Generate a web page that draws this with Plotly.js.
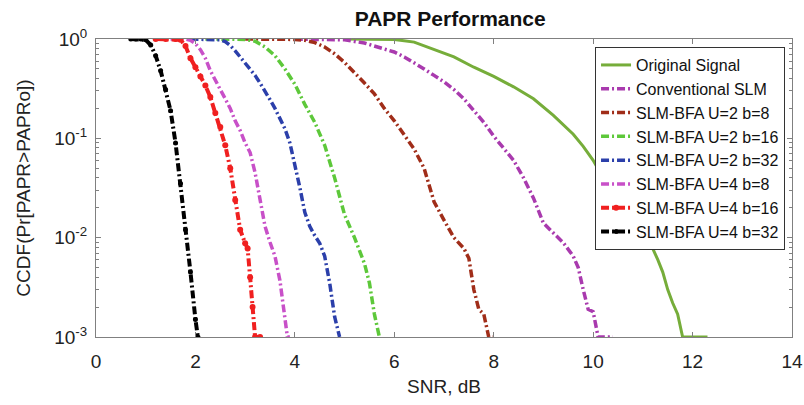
<!DOCTYPE html>
<html>
<head>
<meta charset="utf-8">
<script src="https://cdn.plot.ly/plotly-3.0.1.min.js"></script>
<style>html,body{margin:0;padding:0;background:#fff;}#chart{width:804px;height:405px;}</style>
</head>
<body>
<div id="chart"></div>
<script>
// ---- data ----
var seriesNames = ["Original Signal","Conventional SLM","SLM-BFA U=2 b=8","SLM-BFA U=2 b=16","SLM-BFA U=2 b=32","SLM-BFA U=4 b=8","SLM-BFA U=4 b=16","SLM-BFA U=4 b=32"];

var origX = [5.0,5.6,6.0,6.4,6.8,7.2,7.6,8.0,8.4,8.8,9.2,9.6,9.8,10.0,10.2,10.4,10.6,10.8,11.0,11.15,11.3,11.4,11.5,11.6,11.7,11.8,12.0,12.3];
var origY = [1,1,0.99,0.93,0.79,0.66,0.52,0.42,0.33,0.25,0.17,0.11,0.083,0.06,0.04,0.027,0.018,0.012,0.0089,0.0088,0.006,0.0045,0.003,0.0022,0.0017,0.001,0.001,0.001];

var convX = [4.0,4.6,5.0,5.4,5.8,6.0,6.2,6.4,6.6,6.8,7.0,7.2,7.4,7.6,7.8,8.0,8.2,8.4,8.6,8.8,9.0,9.2,9.4,9.6,9.7,9.8,9.9,10.0,10.1,10.4];
var convY = [1,1,0.98,0.91,0.8,0.74,0.66,0.58,0.5,0.43,0.37,0.31,0.25,0.19,0.145,0.105,0.08,0.06,0.04,0.025,0.014,0.011,0.0089,0.0065,0.005,0.003,0.0019,0.0018,0.001,0.001];

var u2b8X = [3.0,3.6,4.0,4.2,4.4,4.6,4.8,5.0,5.2,5.4,5.6,5.8,6.0,6.2,6.4,6.6,6.8,7.0,7.2,7.4,7.5,7.6,7.7,7.8,7.9,8.0];
var u2b8Y = [1,1,0.99,0.97,0.92,0.83,0.71,0.58,0.46,0.36,0.28,0.2,0.15,0.11,0.078,0.05,0.023,0.015,0.01,0.0078,0.0062,0.003,0.0019,0.0017,0.001,0.001];

var u2b16X = [2.2,2.6,3.0,3.2,3.4,3.6,3.8,4.0,4.2,4.4,4.6,4.8,5.0,5.2,5.4,5.5,5.6,5.7];
var u2b16Y = [1,1,0.99,0.95,0.83,0.68,0.5,0.35,0.22,0.145,0.085,0.04,0.017,0.01,0.0055,0.0035,0.0017,0.001];

var u2b32X = [1.9,2.2,2.5,2.6,2.7,2.8,2.9,3.0,3.1,3.2,3.3,3.4,3.5,3.6,3.7,3.8,3.9,4.0,4.1,4.2,4.3,4.4,4.5,4.6,4.7,4.8,4.9];
var u2b32Y = [1,1,0.98,0.94,0.86,0.76,0.66,0.58,0.51,0.43,0.36,0.3,0.245,0.2,0.16,0.125,0.09,0.055,0.032,0.018,0.013,0.0105,0.0088,0.0065,0.0035,0.0016,0.001];

var u4b8X = [1.5,1.8,1.9,2.0,2.1,2.2,2.3,2.4,2.5,2.6,2.7,2.8,2.9,3.0,3.1,3.2,3.3,3.4,3.5,3.6,3.7,3.8,3.85,3.9];
var u4b8Y = [1,1,0.97,0.9,0.78,0.64,0.48,0.38,0.31,0.25,0.2,0.15,0.12,0.09,0.072,0.045,0.025,0.013,0.009,0.0065,0.0037,0.0015,0.001,0.001];

var u4b16X = [1.2,1.4,1.6,1.7,1.8,1.9,2.0,2.1,2.2,2.3,2.4,2.5,2.6,2.7,2.8,2.9,3.0,3.05,3.1,3.15,3.2,3.3];
var u4b16Y = [1,1,1,0.98,0.85,0.64,0.52,0.42,0.34,0.26,0.18,0.13,0.085,0.05,0.024,0.012,0.0088,0.0078,0.004,0.002,0.001,0.001];

var u4b32X = [0.7,0.8,0.9,1.0,1.1,1.2,1.3,1.4,1.5,1.6,1.7,1.8,1.9,2.0,2.05];
var u4b32Y = [1,1,1,0.98,0.87,0.68,0.48,0.31,0.19,0.09,0.035,0.012,0.0045,0.0015,0.001];

var xTicks = [0,2,4,6,8,10,12,14];
var yTickVals = [0.001,0.01,0.1,1];
var yTickText = ["10<sup>-3</sup>","10<sup>-2</sup>","10<sup>-1</sup>","10<sup>0</sup>"];

// ---- styles ----
var FONT = "Arial, 'Liberation Sans', Helvetica, sans-serif";
var DD = "8px,3px,2px,3px";
function tr(x, y, name, color, dash, width, marker) {
  var t = {x: x, y: y, name: name, type: "scatter",
    mode: marker ? "lines+markers" : "lines",
    line: {color: color, width: width, dash: dash}};
  if (marker) t.marker = {color: color, size: marker, symbol: "circle"};
  return t;
}
var data = [
  tr(origX, origY, seriesNames[0], "#76AD3A", "solid", 3),
  tr(convX, convY, seriesNames[1], "#A93AAE", DD, 3.5),
  tr(u2b8X, u2b8Y, seriesNames[2], "#A02D19", DD, 3.5),
  tr(u2b16X, u2b16Y, seriesNames[3], "#5DC83A", DD, 3.5),
  tr(u2b32X, u2b32Y, seriesNames[4], "#2B3FAA", DD, 3.5),
  tr(u4b8X, u4b8Y, seriesNames[5], "#C850C8", DD, 3.5),
  tr(u4b16X, u4b16Y, seriesNames[6], "#F02020", DD, 4, 6),
  tr(u4b32X, u4b32Y, seriesNames[7], "#000000", DD, 4, 5)
];

var axCol = "#808080";
var layout = {
  width: 804, height: 405,
  margin: {l: 96, r: 12, t: 39, b: 68},
  paper_bgcolor: "#fff", plot_bgcolor: "#fff",
  font: {family: FONT, color: "#222", size: 17},
  title: {text: "<b>PAPR Performance</b>", font: {family: FONT, size: 21, color: "#111"},
          x: 0.56, xanchor: "center", y: 0.955, yanchor: "middle"},
  xaxis: {range: [0, 14], tickvals: xTicks, ticks: "inside", ticklen: 5, tickcolor: axCol,
          showline: true, linecolor: axCol, linewidth: 1, mirror: "ticks", showgrid: false, zeroline: false,
          tickfont: {size: 19, color: "#222"}, ticklabelstandoff: 7,
          title: {text: "SNR, dB", font: {size: 19, color: "#222"}, standoff: 8}},
  yaxis: {type: "log", range: [-3, 0], tickvals: yTickVals, ticktext: yTickText,
          ticks: "inside", ticklen: 5, tickcolor: axCol,
          minor: {ticks: "inside", ticklen: 3, tickcolor: axCol, dtick: "D1", showgrid: false},
          showline: true, linecolor: axCol, linewidth: 1, mirror: "ticks", showgrid: false, zeroline: false,
          tickfont: {size: 19, color: "#222"}, ticklabelstandoff: 4,
          title: {text: "CCDF(Pr[PAPR>PAPRo])", font: {size: 19, color: "#222"}, standoff: 18}},
  showlegend: true,
  legend: {x: 0.717, y: 0.973, xanchor: "left", yanchor: "top", bgcolor: "#fff",
           bordercolor: "#333", borderwidth: 1, font: {size: 16, color: "#111"},
           tracegroupgap: 0, itemwidth: 30}
};
Plotly.newPlot("chart", data, layout, {staticPlot: true, displayModeBar: false});
</script>
</body>
</html>
